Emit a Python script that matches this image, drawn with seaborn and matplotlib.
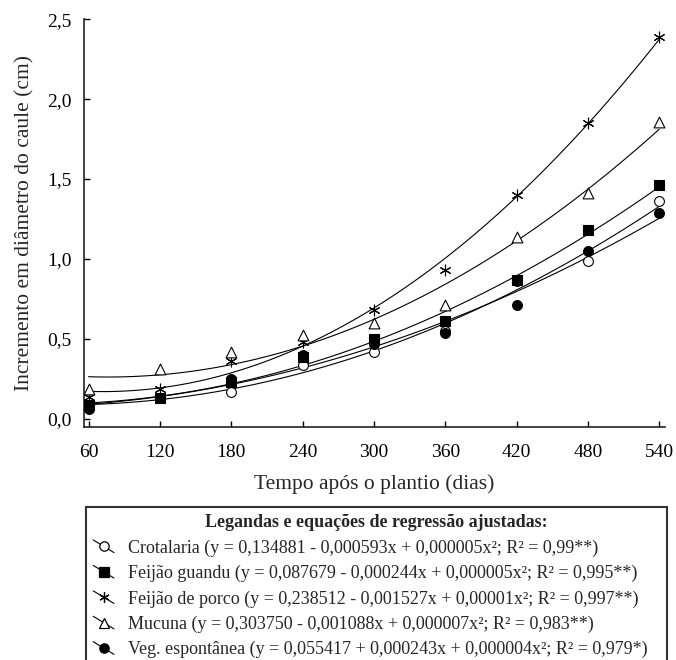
import matplotlib
matplotlib.use('Agg')
import numpy as np
import pandas as pd
import seaborn as sns
import matplotlib.pyplot as plt
from matplotlib.lines import Line2D
from matplotlib.legend_handler import HandlerLine2D

# Data (days after planting, stem diameter increment in cm)
dias = [60, 120, 180, 240, 300, 360, 420, 480, 540]
crotalaria = [0.08, 0.13, 0.17, 0.34, 0.42, 0.55, 0.86, 0.99, 1.36]
feijao_guandu = [0.09, 0.13, 0.23, 0.39, 0.50, 0.61, 0.87, 1.18, 1.46]
feijao_porco = [0.14, 0.19, 0.36, 0.48, 0.68, 0.93, 1.40, 1.85, 2.39]
mucuna = [0.19, 0.31, 0.42, 0.525, 0.60, 0.71, 1.14, 1.41, 1.86]
veg_espontanea = [0.06, 0.13, 0.25, 0.40, 0.47, 0.54, 0.71, 1.05, 1.285]

legend_labels = [
    'Crotalaria (y = 0,134881 - 0,000593x + 0,000005x²; R² = 0,99**)',
    'Feijão guandu (y = 0,087679 - 0,000244x + 0,000005x²; R² = 0,995**)',
    'Feijão de porco (y = 0,238512 - 0,001527x + 0,00001x²; R² = 0,997**)',
    'Mucuna (y = 0,303750 - 0,001088x + 0,000007x²; R² = 0,983**)',
    'Veg. espontânea (y = 0,055417 + 0,000243x + 0,000004x²; R² = 0,979*)',
]
y_ticks = [0.0, 0.5, 1.0, 1.5, 2.0, 2.5]
y_tick_labels = ['0,0', '0,5', '1,0', '1,5', '2,0', '2,5']

series = [crotalaria, feijao_guandu, feijao_porco, mucuna, veg_espontanea]

# marker styles: (marker, facecolor, size)
styles = [
    ('o', 'white', 50),
    ('s', 'black', 55),
    ((6, 2, 0), 'black', 60),
    ('^', 'white', 60),
    ('o', 'black', 50),
]

sns.set_style('ticks')
plt.rcParams['font.family'] = ['Liberation Serif', 'DejaVu Serif']

fig = plt.figure(figsize=(6.76, 6.6), dpi=100)
ax = fig.add_axes([0.124, 0.353, 0.86, 0.618])

for vals, (mk, fc, sz) in zip(series, styles):
    df = pd.DataFrame({'dia': dias, 'incremento': vals})
    skw = {'s': sz, 'alpha': 1, 'zorder': 3, 'linewidths': 0.8}
    if mk != (6, 2, 0):
        skw['facecolors'] = fc
        skw['edgecolors'] = 'black'
    sns.regplot(data=df, x='dia', y='incremento', order=2, ci=None, ax=ax,
                marker=mk, color='black', scatter_kws=skw,
                line_kws={'color': 'black', 'lw': 0.8, 'zorder': 2})

ax.set_xlim(56, 545)
ax.set_ylim(-0.05, 2.5)
ax.set_xticks(dias)
ax.set_xticklabels([str(d) for d in dias])
ax.set_yticks(y_ticks)
ax.set_yticklabels(y_tick_labels)
ax.tick_params(direction='in', length=4, width=1, labelsize=14, colors='black', pad=9)
ax.tick_params(axis='x', pad=12)
for s in ['left', 'bottom']:
    ax.spines[s].set_linewidth(1.2)
    ax.spines[s].set_color('#222222')
sns.despine(ax=ax)
ax.set_xlabel('Tempo após o plantio (dias)', fontsize=15.5, labelpad=10)
ax.set_ylabel('Incremento em diâmetro do caule (cm)', fontsize=15.5, labelpad=9)


class DiagonalHandler(HandlerLine2D):
    def create_artists(self, legend, orig_handle, xdescent, ydescent,
                       width, height, fontsize, trans):
        x0 = -xdescent
        x1 = -xdescent + width
        ytop = -ydescent + height * 1.0
        ybot = -ydescent + height * 0.0
        line = Line2D([x0, x1], [ytop, ybot], color='black', lw=0.8)
        mark = Line2D([(x0 + x1) / 2], [(ytop + ybot) / 2], linestyle='',
                      marker=orig_handle.get_marker(),
                      markersize=orig_handle.get_markersize(),
                      markerfacecolor=orig_handle.get_markerfacecolor(),
                      markeredgecolor='black', markeredgewidth=0.9)
        line.set_transform(trans)
        mark.set_transform(trans)
        return [line, mark]


handles = []
for (mk, fc, sz) in styles:
    handles.append(Line2D([], [], marker=mk, markersize=np.sqrt(sz) * 0.95,
                          markerfacecolor=fc, color='black'))

leg = fig.legend(handles, legend_labels, loc='upper left',
                 bbox_to_anchor=(86 / 676, 0, 581 / 676, 1 - 507 / 660),
                 mode='expand', borderaxespad=0, fontsize=13,
                 title='Legandas e equações de regressão ajustadas:',
                 title_fontproperties={'weight': 'bold', 'size': 13},
                 handler_map={Line2D: DiagonalHandler()},
                 handlelength=1.15, handletextpad=0.8, labelspacing=0.45,
                 borderpad=0.4, fancybox=False, framealpha=1)
leg.get_frame().set_edgecolor('#333333')
leg.get_frame().set_linewidth(1.5)

fig.savefig('out.png', dpi=100)
